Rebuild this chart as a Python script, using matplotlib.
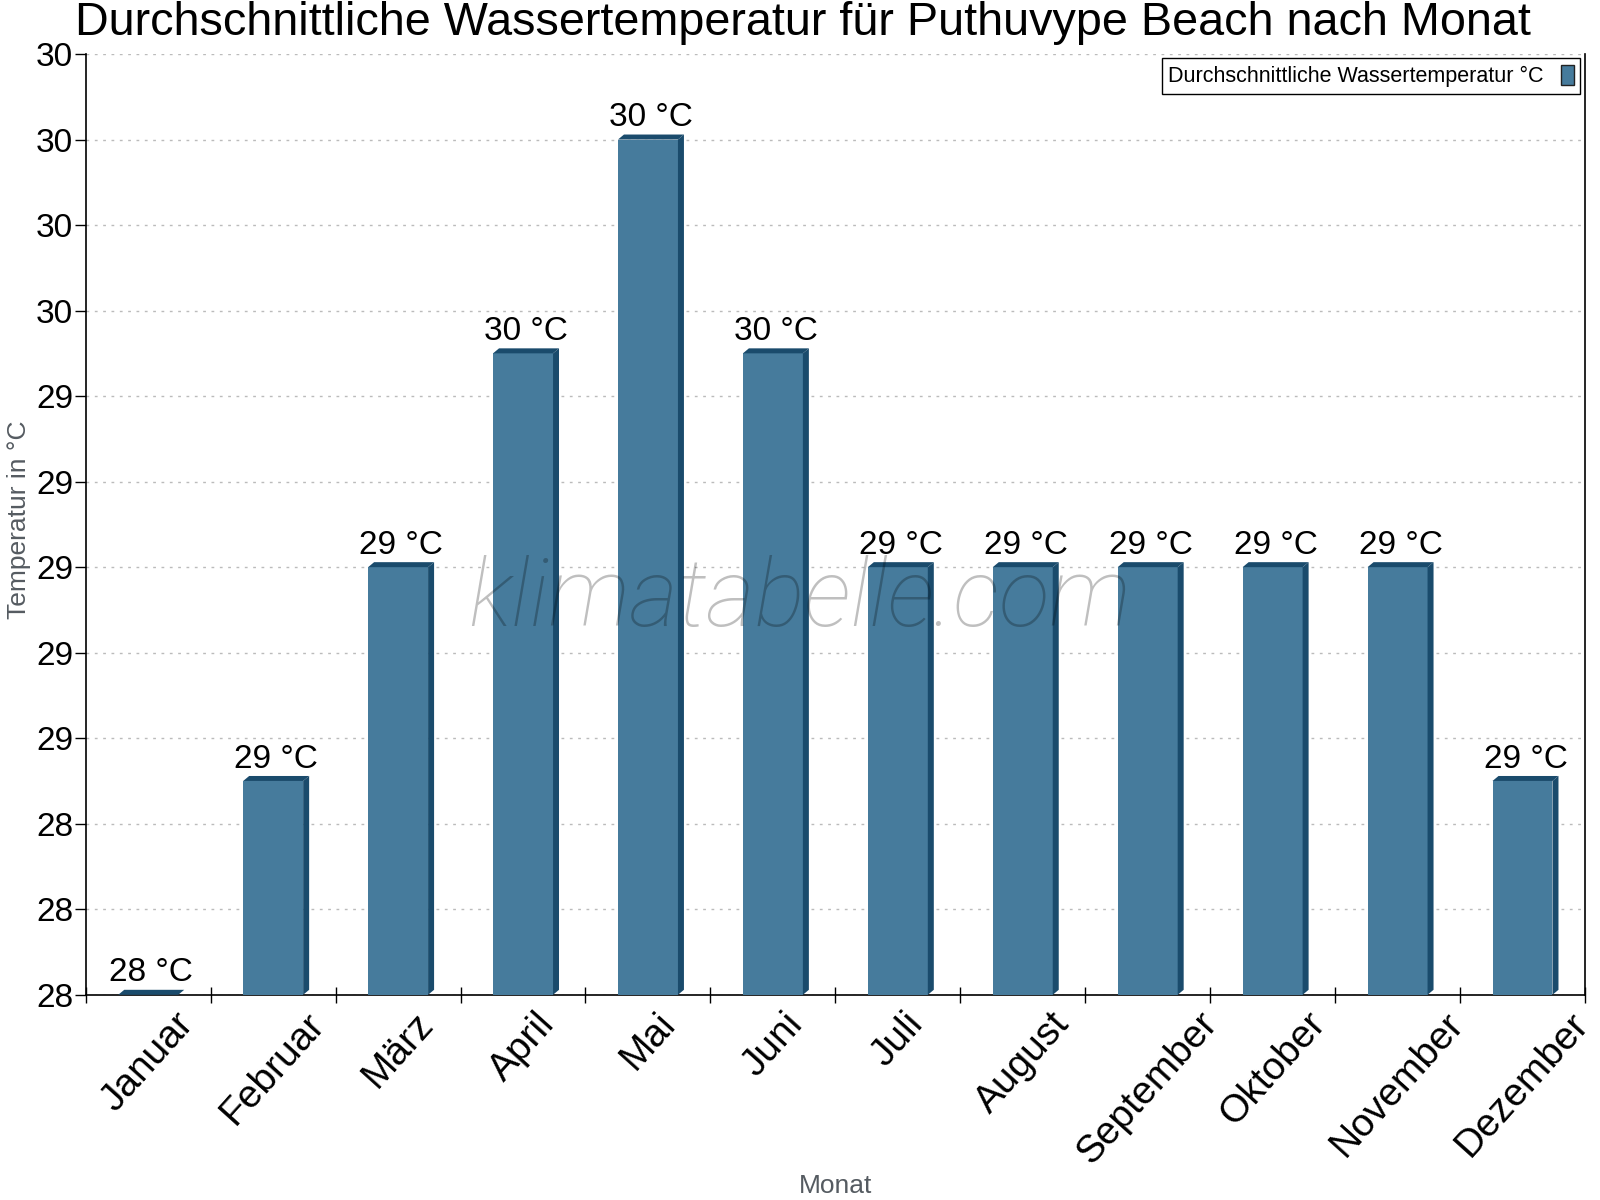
import math
import matplotlib
matplotlib.use('Agg')
import matplotlib.pyplot as plt
from matplotlib.patches import Rectangle, Polygon

plt.rcParams['font.family'] = ['Liberation Sans', 'DejaVu Sans']

months = ['Januar', 'Februar', 'März', 'April', 'Mai', 'Juni', 'Juli',
          'August', 'September', 'Oktober', 'November', 'Dezember']
water_temp = [28.0, 28.5, 29.0, 29.5, 30.0, 29.5, 29.0, 29.0, 29.0, 29.0, 29.0, 28.5]
y_ticks = [28.0, 28.2, 28.4, 28.6, 28.8, 29.0, 29.2, 29.4, 29.6, 29.8, 30.0, 30.2]

front_clr = '#467b9c'
dark_clr = '#1a4b6c'
bar_w = 0.48
depth_px = 6  # 3d offset in pixels

fig = plt.figure(figsize=(16, 12), dpi=100)
ax = fig.add_axes([0.0536, 0.171, 0.937, 0.784])
ax.set_xlim(-0.5, len(months) - 0.5)
ax.set_ylim(y_ticks[0], y_ticks[-1])

# pixel -> data conversion for the fake 3d depth
p0 = ax.transData.inverted().transform((0, 0))
p1 = ax.transData.inverted().transform((depth_px, depth_px - 1))
dx = p1[0] - p0[0]
dy = p1[1] - p0[1]
y0 = y_ticks[0]

for i, v in enumerate(water_temp):
    x0 = i - bar_w / 2
    x1 = i + bar_w / 2
    if v > y0:
        ax.add_patch(Rectangle((x0, y0), bar_w, v - y0, color=front_clr, lw=0, zorder=3))
        ax.add_patch(Polygon([(x1, y0), (x1 + dx, y0 + dy), (x1 + dx, v + dy), (x1, v)],
                             closed=True, color=dark_clr, lw=0, zorder=3))
    ax.add_patch(Polygon([(x0, v), (x0 + dx, v + dy), (x1 + dx, v + dy), (x1, v)],
                         closed=True, color=dark_clr, lw=0, zorder=3))
    lbl = '%d °C' % math.floor(v + 0.5)
    ax.annotate(lbl, (i + dx / 2, v + dy), xytext=(0, 1), textcoords='offset points',
                ha='center', va='bottom', fontsize=24, zorder=5)

ax.set_yticks(y_ticks)
ax.set_yticklabels(['%d' % math.floor(t + 0.5) for t in y_ticks], fontsize=24)
ax.set_xticks(range(len(months)))
ax.set_xticklabels(months, fontsize=28, rotation=48, ha='center', va='top')
ax.set_xticks([i - 0.5 for i in range(len(months) + 1)], minor=True)
ax.tick_params(axis='x', which='major', length=0, pad=8)
ax.tick_params(axis='x', which='minor', length=12, direction='inout', width=1)
ax.tick_params(axis='y', length=8, width=1, pad=1)

ax.grid(axis='y', color='#bbbbbb', linestyle=(0, (2, 4)), linewidth=1, zorder=0)
ax.set_axisbelow(True)
ax.spines['top'].set_visible(False)
for s in ['right', 'left', 'bottom']:
    ax.spines[s].set_linewidth(1.2)

ax.set_ylabel('Temperatur in °C', fontsize=19, color='#555b61')
ax.yaxis.set_label_coords(-0.0365, 0.505)
ax.set_xlabel('Monat', fontsize=19, color='#555b61')
ax.xaxis.set_label_coords(0.5, -0.19)
fig.text(0.502, 0.981, 'Durchschnittliche Wassertemperatur für Puthuvype Beach nach Monat',
         ha='center', va='center', fontsize=33.7)

# watermark
fig.text(0.5, 0.5, 'klimatabelle.com', ha='center', va='center', fontsize=67.5,
         family=['Roboto', 'Liberation Sans'], weight='light', style='italic',
         color='black', alpha=0.25, zorder=10)

h = Rectangle((0, 0), 1, 1, facecolor=front_clr, edgecolor='#222222', lw=1)
leg = ax.legend([h], ['Durchschnittliche Wassertemperatur °C'], loc='upper right',
                markerfirst=False, fontsize=15.5, fancybox=False, framealpha=1,
                edgecolor='black', handlelength=0.6, handleheight=1.1,
                bbox_to_anchor=(0.9968, 0.9957), borderaxespad=0, borderpad=0.3,
                handletextpad=0.8)
leg.get_frame().set_linewidth(1)

fig.savefig('out.png', dpi=100)
